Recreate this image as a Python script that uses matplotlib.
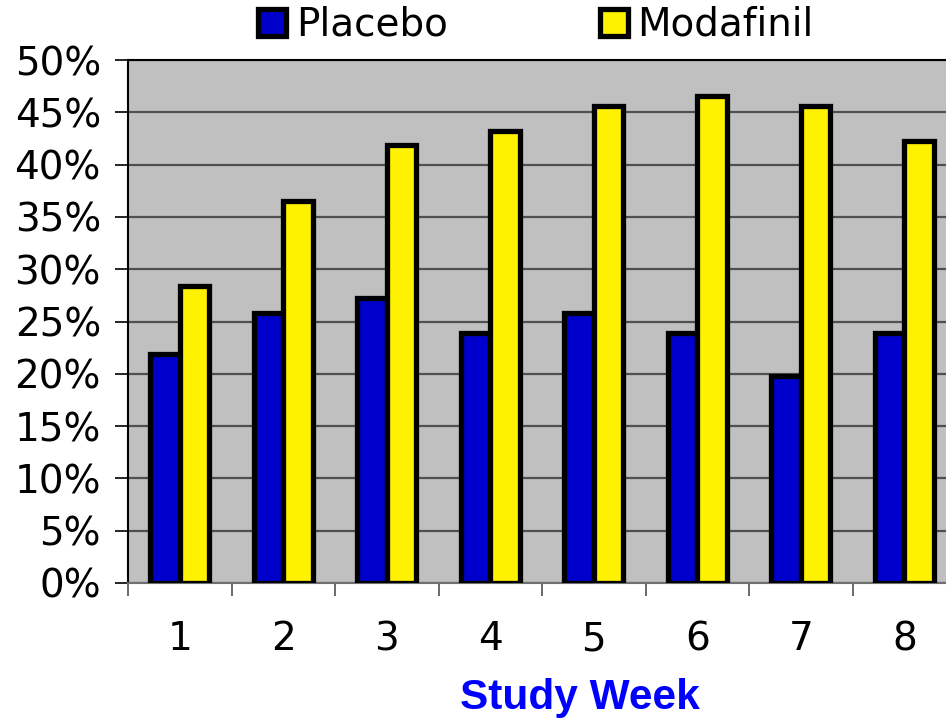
import matplotlib
matplotlib.use("Agg")
import matplotlib.pyplot as plt
import numpy as np

weeks = ["1", "2", "3", "4", "5", "6", "7", "8"]
placebo = [21.9, 25.8, 27.2, 23.9, 25.8, 23.9, 19.8, 23.9]
modafinil = [28.4, 36.5, 41.9, 43.2, 45.6, 46.6, 45.6, 42.3]
yticks = [0, 5, 10, 15, 20, 25, 30, 35, 40, 45, 50]
series_names = ["Placebo", "Modafinil"]

fig = plt.figure(figsize=(9.46, 7.2), dpi=100)
ax = fig.add_axes([128/946, 137/720, 828/946, 523/720])
ax.set_facecolor("#C0C0C0")

x = np.arange(len(weeks))
w = 0.285
b1 = ax.bar(x - w/2, placebo, w, color="#0000CC", edgecolor="black", linewidth=3.8, zorder=3, label=series_names[0])
b2 = ax.bar(x + w/2, modafinil, w, color="#FFF200", edgecolor="black", linewidth=3.8, zorder=3, label=series_names[1])

ax.set_xlim(-0.5, len(weeks) - 0.5)
ax.set_ylim(0, 50)
ax.set_yticks(yticks)
ax.set_yticklabels([f"{v}%" for v in yticks], fontsize=28, family="DejaVu Sans")
ax.yaxis.grid(True, color="#505050", linewidth=1.6, zorder=1)
ax.set_axisbelow(True)
ax.tick_params(axis="y", length=9.5, width=1.2, pad=10, color="black")

ax.set_xticks(x)
ax.set_xticklabels(weeks, fontsize=28, family="DejaVu Sans")
ax.set_xticks(np.arange(-0.5, len(weeks) + 0.5, 1), minor=True)
ax.tick_params(axis="x", which="major", length=0, pad=27)
ax.tick_params(axis="x", which="minor", length=9, width=1.2, color="#505050")

ax.spines["right"].set_visible(False)
ax.spines["top"].set_color("black")
ax.spines["top"].set_linewidth(1.5)
ax.spines["left"].set_color("black")
ax.spines["left"].set_linewidth(1.5)
ax.spines["bottom"].set_color("#707070")
ax.spines["bottom"].set_linewidth(1.5)

leg = fig.legend(handles=[b1, b2], labels=series_names, loc="center",
                 bbox_to_anchor=(536/946, 1 - 25/720), ncol=2, frameon=False,
                 prop={"family": "DejaVu Sans", "size": 28},
                 handlelength=0.72, handleheight=0.72, handletextpad=0.25,
                 columnspacing=3.9, borderpad=0)

fig.text(580/946, 1 - 709/720, "Study Week", color="#0000FF", fontsize=30.5,
         fontweight="bold", family="Liberation Sans", ha="center", va="baseline")

fig.savefig("out.png", dpi=100)
